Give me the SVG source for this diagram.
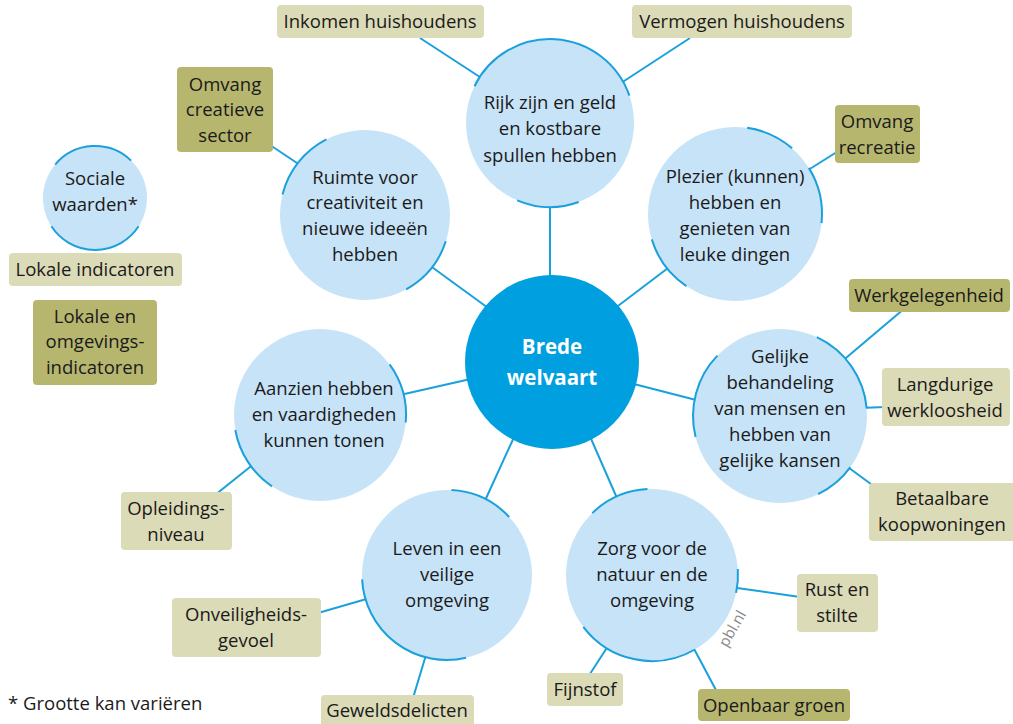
<svg xmlns="http://www.w3.org/2000/svg" width="1013" height="724" viewBox="0 0 1013 724">
<style>
text{font-family:"Open Sans","Noto Sans","Liberation Sans",sans-serif;font-size:18.5px;fill:#1a1a1a;text-anchor:middle}
.c{fill:#c7e3f8}
.arc{fill:none;stroke:#1aa0dc;stroke-width:2}
.ln{stroke:#1aa0dc;stroke-width:2;fill:none}
.lb{fill:#dcdbb7}
.db{fill:#b7b66f}
.w{fill:#ffffff;font-weight:bold;font-size:20.5px}
</style>
<g id="connectors">
<line class="ln" x1="420" y1="38" x2="486" y2="81"/>
<line class="ln" x1="690" y1="38" x2="618" y2="85"/>
<line class="ln" x1="550" y1="200" x2="550" y2="285"/>
<line class="ln" x1="270" y1="145" x2="303" y2="167"/>
<line class="ln" x1="425" y1="262" x2="495" y2="313"/>
<line class="ln" x1="805" y1="172" x2="840" y2="150"/>
<line class="ln" x1="672" y1="265" x2="610" y2="312"/>
<line class="ln" x1="840" y1="363" x2="905" y2="308"/>
<line class="ln" x1="860" y1="408" x2="885" y2="407"/>
<line class="ln" x1="845" y1="465" x2="875" y2="487"/>
<line class="ln" x1="630" y1="383" x2="700" y2="401"/>
<line class="ln" x1="400" y1="395" x2="475" y2="378"/>
<line class="ln" x1="255" y1="463" x2="215" y2="495"/>
<line class="ln" x1="515" y1="435" x2="483" y2="505"/>
<line class="ln" x1="585" y1="425" x2="620" y2="505"/>
<line class="ln" x1="370" y1="598" x2="318" y2="613"/>
<line class="ln" x1="426" y1="655" x2="413" y2="698"/>
<line class="ln" x1="730" y1="587" x2="800" y2="597"/>
<line class="ln" x1="610" y1="643" x2="588" y2="677"/>
<line class="ln" x1="692" y1="645" x2="717" y2="692"/>
</g>
<g id="sociale">
<circle class="c" cx="95" cy="198" r="52"/>
<path class="arc" d="M55.2,164.6 A52,52 0 0 1 131.1,160.6"/>
<path class="arc" d="M138.6,226.3 A52,52 0 0 1 51.4,226.3"/>
<text x="95" y="185">Sociale</text>
<text x="95" y="211">waarden*</text>
</g>
<g id="rijk">
<circle class="c" cx="550" cy="123" r="84"/>
<path class="arc" d="M474.5,86.2 A84,84 0 0 1 629.4,95.7"/>
<path class="arc" d="M578.7,202 A84,84 0 0 1 517.2,200.3"/>
<text x="550" y="109">Rijk zijn en geld</text>
<text x="550" y="135">en kostbare</text>
<text x="550" y="162">spullen hebben</text>
</g>
<g id="ruimte">
<circle class="c" cx="365" cy="215" r="85"/>
<path class="arc" d="M282.5,194.4 A85,85 0 0 1 326.4,139.3"/>
<path class="arc" d="M445.8,241.3 A85,85 0 0 1 406.2,289.3"/>
<text x="365" y="184">Ruimte voor</text>
<text x="365" y="209">creativiteit en</text>
<text x="365" y="235">nieuwe ideeën</text>
<text x="365" y="261">hebben</text>
</g>
<g id="plezier">
<circle class="c" cx="735" cy="214" r="87"/>
<path class="arc" d="M747.1,127.8 A87,87 0 0 1 792.1,148.3"/>
<path class="arc" d="M808.8,167.9 A87,87 0 0 1 821.5,223.1"/>
<path class="arc" d="M686.4,286.1 A87,87 0 0 1 651.8,239.4"/>
<text x="735" y="183">Plezier (kunnen)</text>
<text x="735" y="209">hebben en</text>
<text x="735" y="235">genieten van</text>
<text x="735" y="261">leuke dingen</text>
</g>
<g id="brede">
<circle cx="552" cy="362" r="87" fill="#009fdf"/>
<text class="w" x="552" y="354">Brede</text>
<text class="w" x="552" y="385">welvaart</text>
</g>
<g id="aanzien">
<circle class="c" cx="320" cy="415" r="86"/>
<path class="arc" d="M389.6,364.4 A86,86 0 0 1 405.7,422.5"/>
<path class="arc" d="M272,486.3 A86,86 0 0 1 235.3,430"/>
<text x="324" y="395">Aanzien hebben</text>
<text x="324" y="421">en vaardigheden</text>
<text x="324" y="447">kunnen tonen</text>
</g>
<g id="gelijke">
<circle class="c" cx="780" cy="416" r="87"/>
<path class="arc" d="M695.6,437 A87,87 0 0 1 717.4,355.6"/>
<path class="arc" d="M816.8,337.2 A87,87 0 0 1 866.7,408.4"/>
<path class="arc" d="M850.4,467.2 A87,87 0 0 1 818.1,494.2"/>
<text x="780" y="363">Gelijke</text>
<text x="780" y="389">behandeling</text>
<text x="780" y="415">van mensen en</text>
<text x="780" y="441">hebben van</text>
<text x="780" y="467">gelijke kansen</text>
</g>
<g id="leven">
<circle class="c" cx="447" cy="575" r="85"/>
<path class="arc" d="M451.4,490.1 A85,85 0 0 1 509.2,517"/>
<path class="arc" d="M466.1,657.8 A85,85 0 0 1 362.1,579.4"/>
<text x="447" y="555">Leven in een</text>
<text x="447" y="581">veilige</text>
<text x="447" y="607">omgeving</text>
</g>
<g id="zorg">
<circle class="c" cx="652" cy="575" r="86"/>
<path class="arc" d="M592.3,513.1 A86,86 0 0 1 647.5,489.1"/>
<path class="arc" d="M737.8,569 A86,86 0 0 1 736.1,592.9"/>
<path class="arc" d="M695,649.5 A86,86 0 0 1 583.3,626.8"/>
<text x="652" y="555">Zorg voor de</text>
<text x="652" y="581">natuur en de</text>
<text x="652" y="607">omgeving</text>
</g>
<g id="inkomen"><rect class="lb" x="277" y="5" width="207" height="33" rx="4"/><text x="380" y="28">Inkomen huishoudens</text></g>
<g id="vermogen"><rect class="lb" x="632" y="5" width="220" height="33" rx="4"/><text x="742" y="28">Vermogen huishoudens</text></g>
<g id="omvang-creatieve"><rect class="db" x="177" y="67" width="96" height="85" rx="4"/><text x="225" y="91">Omvang</text><text x="225" y="116">creatieve</text><text x="225" y="142">sector</text></g>
<g id="omvang-recreatie"><rect class="db" x="835" y="105" width="85" height="58" rx="4"/><text x="877" y="128">Omvang</text><text x="877" y="154">recreatie</text></g>
<g id="lokale"><rect class="lb" x="9" y="253" width="173" height="33" rx="4"/><text x="95" y="276">Lokale indicatoren</text></g>
<g id="lokale-omg"><rect class="db" x="33" y="300" width="124" height="85" rx="4"/><text x="95" y="323">Lokale en</text><text x="95" y="348">omgevings-</text><text x="95" y="374">indicatoren</text></g>
<g id="werkgelegenheid"><rect class="db" x="849" y="279" width="161" height="33" rx="4"/><text x="929" y="302">Werkgelegenheid</text></g>
<g id="langdurige"><rect class="lb" x="882" y="368" width="128" height="58" rx="4"/><text x="945" y="391">Langdurige</text><text x="945" y="417">werkloosheid</text></g>
<g id="betaalbare"><rect class="lb" x="869" y="483" width="150" height="58" rx="4"/><text x="942" y="505">Betaalbare</text><text x="942" y="531">koopwoningen</text></g>
<g id="opleidings"><rect class="lb" x="121" y="492" width="111" height="58" rx="4"/><text x="176" y="515">Opleidings-</text><text x="176" y="541">niveau</text></g>
<g id="onveiligheids"><rect class="lb" x="172" y="598" width="149" height="59" rx="4"/><text x="246" y="621">Onveiligheids-</text><text x="246" y="647">gevoel</text></g>
<g id="geweld"><rect class="lb" x="321" y="695" width="153" height="32" rx="4"/><text x="397" y="717">Geweldsdelicten</text></g>
<g id="rust"><rect class="lb" x="797" y="574" width="81" height="58" rx="4"/><text x="837" y="596">Rust en</text><text x="837" y="622">stilte</text></g>
<g id="fijnstof"><rect class="lb" x="547" y="673" width="76" height="33" rx="4"/><text x="585" y="696">Fijnstof</text></g>
<g id="openbaar"><rect class="db" x="698" y="689" width="152" height="32" rx="4"/><text x="774" y="712">Openbaar groen</text></g>
<text x="0" y="0" transform="translate(727 648) rotate(-60)" style="font-size:15px;fill:#8a8a8a;text-anchor:start">pbl.nl</text>
<text x="8" y="710" style="text-anchor:start">* Grootte kan variëren</text>
</svg>
